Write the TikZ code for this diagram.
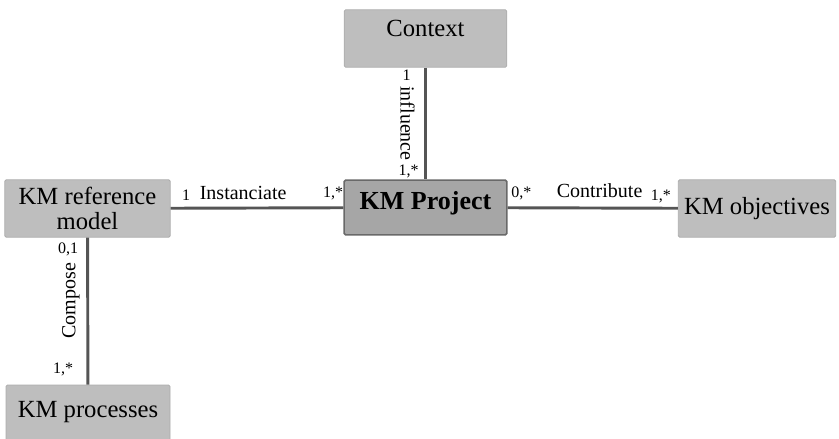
\documentclass[tikz,border=0pt]{standalone}
\usepackage{fontspec}
\setmainfont{Liberation Serif}
\definecolor{boxfill}{RGB}{190,190,190}
\definecolor{boxline}{RGB}{172,172,172}
\definecolor{projfill}{RGB}{166,166,166}
\definecolor{projline}{RGB}{105,105,105}
\definecolor{linkgray}{RGB}{85,85,85}
\begin{document}
\begin{tikzpicture}[x=0.75pt, y=-0.75pt,
  main node/.style={rectangle, rounded corners=1pt, fill=boxfill, draw=boxline, line width=0.6pt, align=center, inner sep=0pt, font=\fontsize{18.5}{19}\selectfont},
  link/.style={draw=linkgray, line width=2.2pt},
  mult/.style={font=\fontsize{12}{13}\selectfont, inner sep=2pt}]
        \tikzstyle{every node}=[font=\fontsize{15}{17}\selectfont]
        \useasboundingbox (0,0) rectangle (839,439);

          \node[main node, minimum width=122pt, minimum height=43pt] (1) at (425.5,38.5) {Context\\[-4pt]};
          \node[main node, minimum width=124pt, minimum height=43pt] (2) at (87.5,208.5) {KM reference\\model};
          \node[main node, minimum width=122pt, minimum height=41pt, fill=projfill, draw=projline, line width=1.2pt, font=\bfseries\fontsize{19.5}{20}\selectfont] (3) at (425.5,207.5) {KM Project\\[-9pt]};
          \node[main node, minimum width=118pt, minimum height=43pt] (4) at (757,208.5) {KM objectives};
          \node[main node, minimum width=123pt, minimum height=45pt] (5) at (88,415) {KM processes\\[-10pt]};

          \path[link]
            (1) edge node [mult, left=8pt, pos=0.07] {1}
                     node [pos=0.5, rotate=-90, anchor=north, inner sep=7pt] {influence}
                     node [mult, left=2pt, pos=0.93] {1,*} (3)
            (2) edge node [mult, above=3pt, pos=0.09] {1}
                     node [above=2pt, pos=0.42] {Instanciate}
                     node [mult, above=3pt, pos=0.94] {1,*} (3)
            (3) edge node [mult, above=3pt, pos=0.08] {0,*}
                     node [above=3pt, pos=0.54] {Contribute}
                     node [mult, above=1pt, pos=0.9] {1,*} (4)
            (2) edge node [mult, left=4pt, pos=0.08] {0,1}
                     node [pos=0.43, rotate=90, anchor=south, inner sep=5pt] {Compose}
                     node [mult, left=8pt, pos=0.9] {1,*} (5);

\end{tikzpicture}
\end{document}
